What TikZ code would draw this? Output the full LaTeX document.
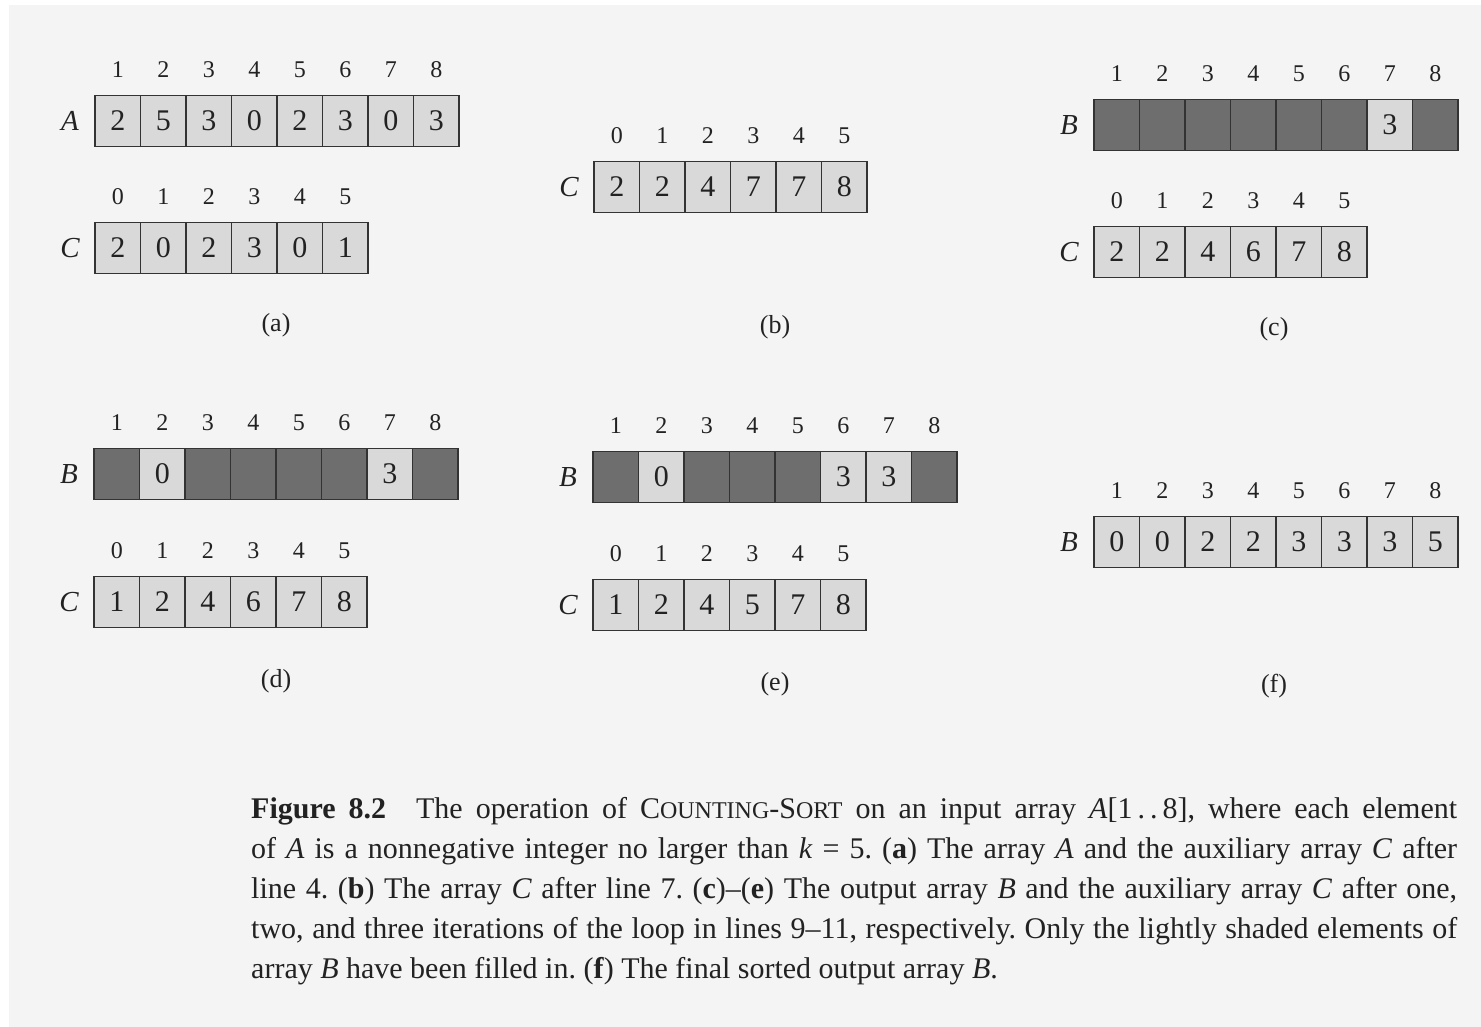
\documentclass[tikz,border=0pt]{standalone}
\usepackage{fontspec}
\setmainfont{Liberation Serif}
\frenchspacing
\definecolor{bgc}{HTML}{F4F4F4}
\definecolor{lightc}{HTML}{D9D9D9}
\definecolor{darkc}{HTML}{6E6E6E}
\definecolor{edgec}{HTML}{333333}
\definecolor{txtc}{HTML}{222222}
\newcommand\celfont{\fontsize{30}{30}\selectfont}
\newcommand\idxfont{\fontsize{24}{24}\selectfont}
\newcommand\arrfont{\fontsize{29}{29}\selectfont\itshape}
\newcommand\subfont{\fontsize{26}{26}\selectfont}
\newcommand\capfont{\fontsize{30}{40}\selectfont\frenchspacing}
\newcommand\scfake[1]{{\fontsize{24}{24}\selectfont #1}}
\tikzset{
  cell/.style={draw=edgec, line width=1.6pt, minimum width=45.5pt, minimum height=51pt,
    inner sep=0pt, font=\celfont, text=txtc, anchor=center},
  lt/.style={fill=lightc},
  dk/.style={fill=darkc},
  idx/.style={inner sep=0pt, font=\idxfont, text=txtc, anchor=center},
  arrname/.style={inner sep=0pt, font=\arrfont, text=txtc, anchor=center},
  sublabel/.style={inner sep=0pt, font=\subfont, text=txtc, anchor=center},
  capline/.style={inner sep=0pt, font=\capfont, text=txtc, anchor=base west}
}
% #1 prefix, #2 left x, #3 centre y, #4 values v/style, #5 first index, #6 array letter
\newcommand\mkrow[6]{%
  \node[arrname] (#1name) at (#2-25,#3) {#6};
  \foreach \v/\s [count=\i from 1] in {#4} {
    \node[cell,\s] (#1c\i) at ({#2+45.5*(\i-0.5)},#3) {\v};
    \pgfmathtruncatemacro\idx{\i-1+#5}
    \node[idx] (#1i\i) at ({#2+45.5*(\i-0.5)},#3-51) {\idx};
  }%
}
\begin{document}
\begin{tikzpicture}[x=1pt,y=-1pt]
\useasboundingbox (0,0) rectangle (1481,1027);
\fill[white] (0,0) rectangle (1481,1027);
\fill[bgc] (9,5) rectangle (1482,1028);

% (a)
\mkrow{aA}{95}{121}{2/lt,5/lt,3/lt,0/lt,2/lt,3/lt,0/lt,3/lt}{1}{A}
\mkrow{aC}{95}{248}{2/lt,0/lt,2/lt,3/lt,0/lt,1/lt}{0}{C}
\node[sublabel] (la) at (276,325) {(a)};

% (b)
\mkrow{bC}{594}{187}{2/lt,2/lt,4/lt,7/lt,7/lt,8/lt}{0}{C}
\node[sublabel] (lb) at (775,327) {(b)};

% (c)
\mkrow{cB}{1094}{125}{{}/dk,{}/dk,{}/dk,{}/dk,{}/dk,{}/dk,3/lt,{}/dk}{1}{B}
\mkrow{cC}{1094}{252}{2/lt,2/lt,4/lt,6/lt,7/lt,8/lt}{0}{C}
\node[sublabel] (lc) at (1274,329) {(c)};

% (d)
\mkrow{dB}{94}{474}{{}/dk,0/lt,{}/dk,{}/dk,{}/dk,{}/dk,3/lt,{}/dk}{1}{B}
\mkrow{dC}{94}{602}{1/lt,2/lt,4/lt,6/lt,7/lt,8/lt}{0}{C}
\node[sublabel] (ld) at (276,681) {(d)};

% (e)
\mkrow{eB}{593}{477}{{}/dk,0/lt,{}/dk,{}/dk,{}/dk,3/lt,3/lt,{}/dk}{1}{B}
\mkrow{eC}{593}{605}{1/lt,2/lt,4/lt,5/lt,7/lt,8/lt}{0}{C}
\node[sublabel] (le) at (775,684) {(e)};

% (f)
\mkrow{fB}{1094}{542}{0/lt,0/lt,2/lt,2/lt,3/lt,3/lt,3/lt,5/lt}{1}{B}
\node[sublabel] (lf) at (1274,686) {(f)};

% caption
\node[capline] (cap1) at (251,818) {\makebox[1206pt][s]{\textbf{Figure 8.2}\quad The operation of C\scfake{OUNTING}-S\scfake{ORT} on an input array \textit{A}[1\,.\,.\,8], where each element}};
\node[capline] (cap2) at (251,858) {\makebox[1206pt][s]{of \textit{A} is a nonnegative integer no larger than \textit{k} = 5. (\textbf{a}) The array \textit{A} and the auxiliary array \textit{C} after}};
\node[capline] (cap3) at (251,898) {\makebox[1206pt][s]{line 4. (\textbf{b}) The array \textit{C} after line 7. (\textbf{c})–(\textbf{e}) The output array \textit{B} and the auxiliary array \textit{C} after one,}};
\node[capline] (cap4) at (251,938) {\makebox[1206pt][s]{two, and three iterations of the loop in lines 9–11, respectively. Only the lightly shaded elements of}};
\node[capline] (cap5) at (251,978) {array \textit{B} have been filled in. (\textbf{f}) The final sorted output array \textit{B}.};
\end{tikzpicture}
\end{document}
